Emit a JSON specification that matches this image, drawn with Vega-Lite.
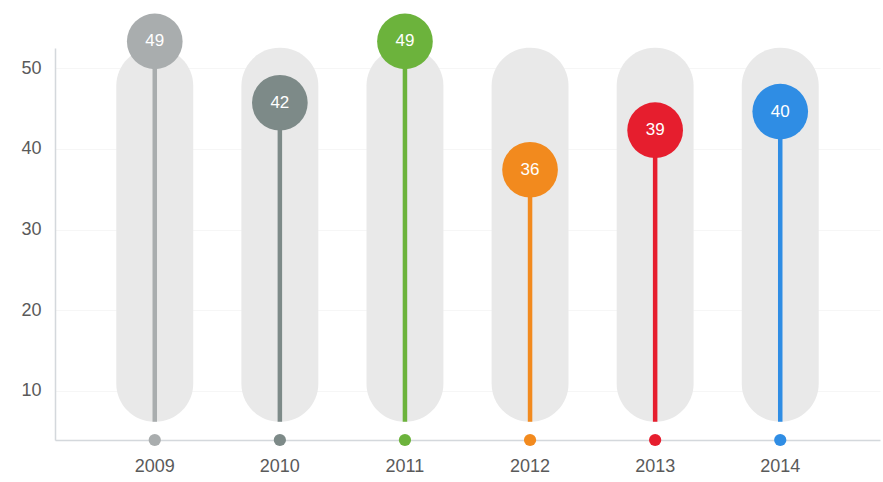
{
  "$schema": "https://vega.github.io/schema/vega-lite/v6.json",
  "width": 825,
  "height": 392,
  "autosize": "none",
  "padding": {"left": 55, "top": 48, "right": 3, "bottom": 42},
  "background": "white",
  "config": {
    "view": {"stroke": null},
    "font": "Liberation Sans"
  },
  "data": {
    "values": [
      {"year": "2009", "label": 49, "value": 53.3, "color": "#a9adae"},
      {"year": "2010", "label": 42, "value": 45.7, "color": "#7d8a88"},
      {"year": "2011", "label": 49, "value": 53.3, "color": "#6cb33c"},
      {"year": "2012", "label": 36, "value": 37.4, "color": "#f28a1e"},
      {"year": "2013", "label": 39, "value": 42.3, "color": "#e61e2e"},
      {"year": "2014", "label": 40, "value": 44.6, "color": "#2f8de4"}
    ]
  },
  "encoding": {
    "x": {
      "field": "year",
      "type": "nominal",
      "scale": {"paddingInner": 0.385, "paddingOuter": 0.49},
      "axis": {
        "title": null,
        "labelAngle": 0,
        "labelFontSize": 18,
        "labelColor": "#5a5a5a",
        "labelPadding": 17,
        "ticks": false,
        "domainColor": "#d4d8dc",
        "domainWidth": 1.5,
        "grid": false
      }
    }
  },
  "layer": [
    {
      "mark": {"type": "bar", "color": "#e9e9e9", "cornerRadius": 38},
      "encoding": {
        "y": {
          "datum": 52.5,
          "type": "quantitative",
          "scale": {"domain": [3.93, 52.48], "nice": false, "zero": false},
          "axis": {
            "title": null,
            "values": [10, 20, 30, 40, 50],
            "labelFontSize": 18,
            "labelColor": "#5a5a5a",
            "labelPadding": 14,
            "ticks": false,
            "domainColor": "#d4d8dc",
            "domainWidth": 1.5,
            "grid": true,
            "gridColor": "#f6f6f6",
            "gridWidth": 1
          }
        },
        "y2": {"datum": 6.2}
      }
    },
    {
      "mark": {"type": "rule", "strokeWidth": 4.5},
      "encoding": {
        "y": {"field": "value", "type": "quantitative"},
        "y2": {"datum": 6.2},
        "color": {"field": "color", "type": "nominal", "scale": null}
      }
    },
    {
      "mark": {"type": "point", "filled": true, "shape": "circle", "size": 150, "opacity": 1},
      "encoding": {
        "y": {"datum": 3.93, "type": "quantitative"},
        "color": {"field": "color", "type": "nominal", "scale": null}
      }
    },
    {
      "mark": {"type": "point", "filled": true, "shape": "circle", "size": 3100, "opacity": 1},
      "encoding": {
        "y": {"field": "value", "type": "quantitative"},
        "color": {"field": "color", "type": "nominal", "scale": null}
      }
    },
    {
      "mark": {"type": "text", "color": "white", "fontSize": 17, "baseline": "middle", "align": "center"},
      "encoding": {
        "y": {"field": "value", "type": "quantitative"},
        "text": {"field": "label", "type": "quantitative"}
      }
    }
  ]
}
